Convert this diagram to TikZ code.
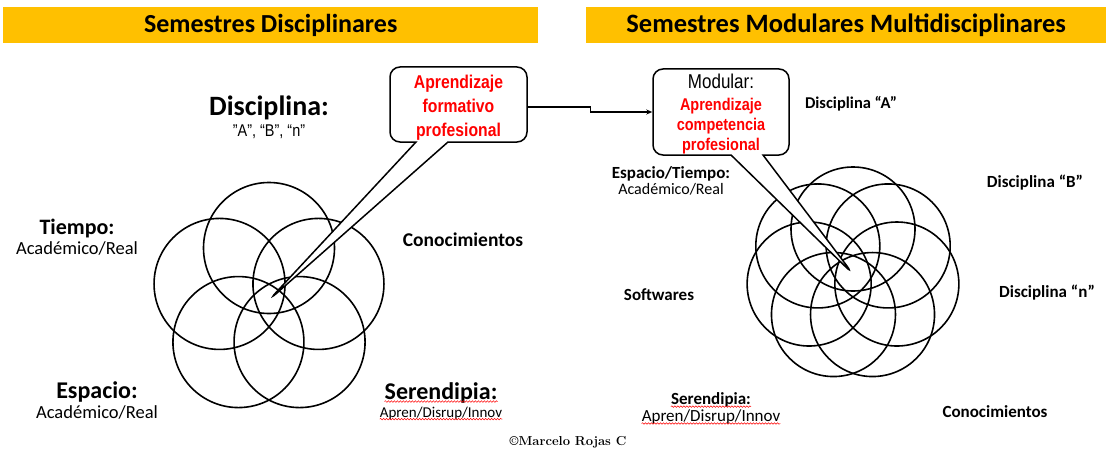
\documentclass[tikz,border=0pt]{standalone}
\usepackage{fontspec}
\usepackage{tikz}
\usepackage{xcolor}
\usetikzlibrary{positioning,shapes.callouts,arrows.meta,decorations.pathmorphing}
\newfontfamily\calibri{Carlito}
\newfontfamily\narrow[FakeStretch=0.85]{Liberation Sans}
\definecolor{amber}{HTML}{FFC000}
\tikzset{
    head-bar/.style = {fill=amber, inner sep=0pt, minimum height=36pt, anchor=north west, font=\calibri\bfseries\fontsize{26}{28}\selectfont},
    bold-label/.style = {inner sep=0pt, font=\calibri\bfseries\fontsize{#1}{#1}\selectfont},
    plain-label/.style = {inner sep=0pt, font=\calibri\fontsize{#1}{#1}\selectfont},
    narrow-label/.style = {inner sep=0pt, font=\narrow\fontsize{#1}{#1}\selectfont},
    speech-box/.style = {rectangle callout, draw=black, fill=white, line width=1.5pt, rounded corners=10pt, callout pointer width=32pt, inner sep=0pt, align=center, text=red},
    petal/.style = {draw=black, line width=1.6pt},
    link/.style = {draw=black, line width=1.2pt, -{Stealth[length=6pt,width=5pt]}},
    spell-line/.style = {draw=red, line width=0.5pt, decorate, decoration={snake, amplitude=0.8pt, segment length=3pt}},
}

\begin{document}
\begin{tikzpicture}[x=1pt, y=-1pt]
\useasboundingbox (0,0) rectangle (1106,452);

% headers
\node[head-bar, minimum width=535pt] (head-disc) at (3,7) {Semestres Disciplinares};
\node[head-bar, minimum width=520pt, font=\calibri\bfseries\fontsize{26.5}{28}\selectfont] (head-mod) at (586,7) {Semestres Modulares Multidisciplinares};

% left flower: five disciplines
\coordinate (disc-core) at (269,300);
\foreach \a in {270,342,54,126,198}
    \draw[petal] (disc-core) ++(\a:52) circle[radius=65.5pt];

% right flower: seven modules
\coordinate (mod-core) at (853,274);
\foreach \k in {0,...,6}
    \draw[petal] (mod-core) ++({-90+\k*360/7}:45) circle[radius=62pt];

% speech boxes
\node[speech-box, minimum width=137pt, minimum height=75pt, callout absolute pointer=(disc-core),
      font=\narrow\bfseries\fontsize{18.5}{24}\selectfont] (formativo) at (458.5,104.5)
    {\rule{0pt}{20pt}Aprendizaje\\formativo\\profesional};
\node[speech-box, minimum width=136pt, minimum height=86pt, callout absolute pointer=(mod-core),
      font=\narrow\bfseries\fontsize{17}{20}\selectfont] (modular) at (721,112)
    {{\color{black}\mdseries\fontsize{20}{22}\selectfont\rule{0pt}{19pt}Modular:}\\[2pt]Aprendizaje\\competencia\\profesional};
\draw[link] ([yshift=-2.5pt]formativo.east) -- ++(63,0) |- (modular.west);

% left labels
\node[bold-label=28] (disciplina) at (269,108) {Disciplina:};
\node[narrow-label=17, below=4pt of disciplina] (disc-list) {”A”, “B”, “n”};
\node[bold-label=22] (tiempo) at (77,229) {Tiempo:};
\node[plain-label=18.5, below=3pt of tiempo] (tiempo-sub) {Académico/Real};
\node[bold-label=24] (espacio) at (97,392) {Espacio:};
\node[plain-label=18.5, below=3pt of espacio] (espacio-sub) {Académico/Real};
\node[bold-label=19.5] (conoc-left) at (463,240) {Conocimientos};
\node[bold-label=24] (seren-left) at (441,393) {Serendipia:};
\node[plain-label=15, below=3pt of seren-left] (seren-left-sub) {Apren/Disrup/Innov};
\draw[spell-line] ([yshift=-2pt]seren-left.base west) -- ([yshift=-2pt]seren-left.base east);
\draw[spell-line] ([yshift=-2pt]seren-left-sub.base west) -- ([yshift=-2pt]seren-left-sub.base east);

% right labels
\node[bold-label=16.5] (disc-a) at (851,104) {Disciplina “A”};
\node[bold-label=17] (disc-b) at (1035,183) {Disciplina “B”};
\node[bold-label=17] (disc-n) at (1047,293) {Disciplina “n”};
\node[bold-label=17] (conoc-right) at (995,412) {Conocimientos};
\node[bold-label=17] (softwares) at (659,295) {Softwares};
\node[bold-label=17] (esp-tiempo) at (671,174) {Espacio/Tiempo:};
\node[plain-label=16, below=2pt of esp-tiempo] (esp-tiempo-sub) {Académico/Real};
\node[bold-label=17] (seren-right) at (711,400) {Serendipia:};
\node[plain-label=17, below=2pt of seren-right] (seren-right-sub) {Apren/Disrup/Innov};
\draw[spell-line] ([yshift=-2pt]seren-right.base west) -- ([yshift=-2pt]seren-right.base east);
\draw[spell-line] ([yshift=-2pt]seren-right-sub.base west) -- ([yshift=-2pt]seren-right-sub.base east);

% signature
\node[inner sep=0pt, font=\bfseries\fontsize{13}{13}\selectfont] (firma) at (568,442) {\textcopyright Marcelo Rojas C};
\end{tikzpicture}
\end{document}
